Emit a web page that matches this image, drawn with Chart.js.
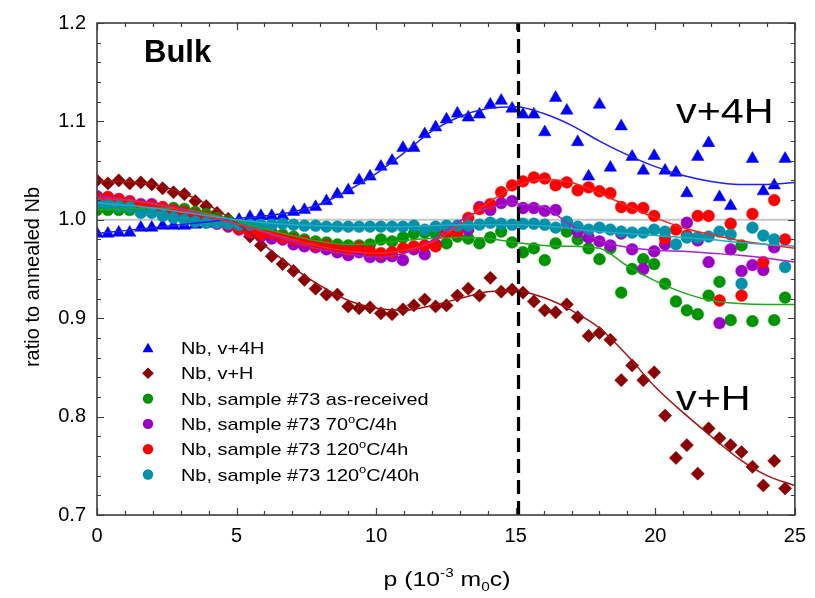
<!DOCTYPE html>
<html>
<head>
<meta charset="utf-8">
<script src="https://cdn.jsdelivr.net/npm/chart.js"></script>
<style>
  html, body { margin: 0; padding: 0; background: #fff; }
  canvas { display: block; }
</style>
</head>
<body>
<canvas id="chart" width="815" height="598"></canvas>
<script>
// momentum p (10^-3 m0c)
const pValues = [0.00, 0.39, 0.78, 1.17, 1.57, 1.96, 2.35, 2.74, 3.13, 3.52, 3.91, 4.30, 4.70, 5.09, 5.48, 5.87,
  6.26, 6.65, 7.04, 7.43, 7.83, 8.22, 8.61, 9.00, 9.39, 9.78, 10.17, 10.57, 10.96, 11.35, 11.74, 12.13,
  12.52, 12.91, 13.30, 13.70, 14.09, 14.48, 14.87, 15.26, 15.65, 16.04, 16.43, 16.83, 17.22, 17.61, 18.00, 18.39,
  18.78, 19.17, 19.57, 19.96, 20.35, 20.74, 21.13, 21.52, 21.91, 22.30, 22.70, 23.09, 23.48, 23.87, 24.26, 24.65];

const v4H = [0.986, 0.986, 0.987, 0.987, 0.992, 0.992, 0.994, 0.994, 0.994, 0.995, 0.996, 0.997, 0.998, 1.000, 1.003, 1.004,
  1.004, 1.004, 1.008, 1.010, 1.013, 1.019, 1.026, 1.030, 1.040, 1.044, 1.054, 1.060, 1.073, 1.073, 1.087, 1.094,
  1.102, 1.108, 1.104, 1.107, 1.117, 1.121, 1.113, 1.107, 1.107, 1.089, 1.124, 1.111, 1.079, 1.044, 1.117, 1.053,
  1.095, 1.064, 1.050, 1.065, 1.050, 1.048, 1.027, 1.064, 1.078, 1.023, 1.014, null, 1.062, 1.029, 1.035, 1.062];

const vH = [1.040, 1.037, 1.040, 1.037, 1.038, 1.036, 1.032, 1.028, 1.026, 1.019, 1.014, 1.007, 1.001, 0.994, 0.983, 0.974,
  0.963, 0.955, 0.948, 0.939, 0.930, 0.924, 0.924, 0.912, 0.910, 0.911, 0.905, 0.904, 0.909, 0.913, 0.919, 0.912,
  0.913, 0.923, 0.930, 0.923, 0.941, 0.927, 0.929, 0.926, 0.917, 0.908, 0.906, 0.914, 0.901, 0.882, 0.885, 0.878,
  0.837, 0.852, 0.837, 0.845, 0.801, 0.758, 0.771, 0.742, 0.788, 0.778, 0.771, 0.764, 0.749, 0.730, 0.755, 0.727];

const asReceived = [1.010, 1.010, 1.010, 1.010, 1.011, 1.012, 1.012, 1.012, 1.011, 1.008, 1.006, 1.002, 0.999, 0.996, 0.994, 0.991,
  0.987, 0.985, 0.983, 0.980, 0.978, 0.977, 0.975, 0.974, 0.974, 0.975, 0.980, 0.978, 0.982, 0.986, 0.987, 0.986,
  0.976, 0.983, 0.981, 0.976, 0.982, 0.988, 0.977, 0.967, 0.971, 0.959, 0.976, 0.988, 0.980, 0.971, 0.960, 0.971,
  0.926, 0.950, 0.960, 0.955, 0.935, 0.917, 0.908, 0.904, 0.923, 0.937, 0.898, 0.974, 0.897, null, 0.898, 0.921];

const t70c4h = [1.024, 1.023, 1.021, 1.019, 1.016, 1.016, 1.011, 1.008, 1.005, 1.002, 0.999, 0.996, 0.993, 0.990, 0.987, 0.983,
  0.981, 0.980, 0.975, 0.973, 0.972, 0.970, 0.967, 0.964, 0.967, 0.962, 0.962, 0.963, 0.959, 0.970, 0.965, 0.975,
  0.987, 0.993, 0.990, 1.013, 1.010, 1.017, 1.019, 1.012, 1.012, 1.009, 1.010, 0.997, 0.988, 0.982, 0.978, 0.974,
  0.986, 0.970, 0.950, 0.968, 0.975, null, 0.997, 0.979, 0.957, 0.895, 0.970, 0.948, 0.954, 0.949, 0.972, null];

const t120c4h = [1.022, 1.023, 1.021, 1.018, 1.014, 1.014, 1.013, 1.010, 1.008, 1.005, 1.003, 1.000, 0.995, 0.991, 0.988, 0.985,
  0.986, 0.982, 0.980, 0.978, 0.974, 0.974, 0.971, 0.969, 0.972, 0.968, 0.966, 0.967, 0.971, 0.973, 0.974, 0.973,
  0.987, 0.987, 1.002, 1.011, 1.016, 1.028, 1.035, 1.039, 1.043, 1.042, 1.035, 1.038, 1.030, 1.033, 1.029, 1.027,
  1.013, 1.012, 1.012, 1.004, 0.981, 0.990, 0.984, 1.004, 1.004, 0.918, 0.996, 0.923, 1.006, 0.957, 1.020, 0.980];

const t120c40h = [1.017, 1.016, 1.014, 1.013, 1.007, 1.007, 1.004, 1.002, 1.000, 0.998, 0.997, 0.997, 0.996, 0.995, 0.995, 0.995,
  0.995, 0.996, 0.995, 0.994, 0.994, 0.993, 0.993, 0.993, 0.993, 0.993, 0.993, 0.993, 0.993, 0.994, 0.990, 0.993,
  0.994, 0.994, 0.994, 0.995, 0.997, 0.996, 0.995, 0.996, 0.996, 0.995, 0.992, 0.998, 0.993, 0.990, 0.992, 0.990,
  0.988, 0.987, 0.987, 0.990, 0.988, 0.975, 0.982, 0.982, 0.983, 0.988, 0.985, 0.935, 0.992, 0.984, 0.980, 0.952];

// smooth fit curves, read at whole units of p
const fitP = [0, 1, 2, 3, 4, 5, 6, 7, 8, 9, 10, 11, 12, 13, 14, 15, 16, 17, 18, 19, 20, 21, 22, 23, 24, 25];
const fitV4H = [0.986, 0.989, 0.992, 0.995, 0.998, 1.001, 1.004, 1.008, 1.016, 1.030, 1.047, 1.068, 1.090,
  1.105, 1.113, 1.115, 1.108, 1.096, 1.080, 1.066, 1.054, 1.045, 1.039, 1.036, 1.036, 1.038];
const fitVH = [1.040, 1.039, 1.036, 1.028, 1.015, 0.997, 0.974, 0.952, 0.933, 0.918, 0.910, 0.908, 0.913,
  0.920, 0.927, 0.928, 0.921, 0.908, 0.890, 0.862, 0.830, 0.804, 0.780, 0.757, 0.740, 0.730];
const fitAsReceived = [1.010, 1.011, 1.012, 1.011, 1.006, 0.999, 0.991, 0.984, 0.978, 0.975, 0.976, 0.979, 0.981,
  0.982, 0.981, 0.977, 0.974, 0.973, 0.971, 0.953, 0.938, 0.926, 0.918, 0.915, 0.914, 0.914];
const fit70c4h = [1.024, 1.021, 1.017, 1.011, 1.004, 0.996, 0.987, 0.978, 0.970, 0.965, 0.962, 0.966, 0.979,
  0.999, 1.012, 1.016, 1.013, 0.994, 0.979, 0.972, 0.969, 0.968, 0.966, 0.964, 0.961, 0.957];
const fit120c4h = [1.021, 1.020, 1.016, 1.010, 1.003, 0.996, 0.988, 0.980, 0.973, 0.968, 0.966, 0.969, 0.977,
  0.995, 1.017, 1.034, 1.041, 1.038, 1.027, 1.014, 1.002, 0.992, 0.985, 0.979, 0.975, 0.971];
const fit120c40h = [1.017, 1.015, 1.012, 1.008, 1.004, 1.000, 0.997, 0.995, 0.994, 0.993, 0.993, 0.993, 0.994,
  0.995, 0.995, 0.995, 0.994, 0.991, 0.988, 0.986, 0.984, 0.982, 0.980, 0.977, 0.975, 0.973];

const refLineP = [0, 25];
const refLineY = [1.0, 1.0];
const cutP = [15.1, 15.1];
const cutY = [0.7, 1.2];

const labels = ['Nb, v+4H', 'Nb, v+H', 'Nb, sample #73 as-received',
  'Nb, sample #73 70{o}C/4h', 'Nb, sample #73 120{o}C/4h', 'Nb, sample #73 120{o}C/40h'];

const FONT = '"Liberation Sans", Arial, sans-serif';

function pts(xs, ys) {
  return xs.map((x, i) => ({ x: x, y: ys[i] }));
}

const series = [
  { data: v4H, fit: fitV4H, color: '#0000ff', line: '#1f1fff', style: 'triangle', r: 7.2 },
  { data: vH, fit: fitVH, color: '#8b0000', line: '#a01414', style: 'rectRot', r: 6.6 },
  { data: asReceived, fit: fitAsReceived, color: '#009400', line: '#22a822', style: 'circle', r: 5.9 },
  { data: t70c4h, fit: fit70c4h, color: '#9c00c4', line: '#a424c8', style: 'circle', r: 5.9 },
  { data: t120c4h, fit: fit120c4h, color: '#ff0000', line: '#ff2424', style: 'circle', r: 5.9 },
  { data: t120c40h, fit: fit120c40h, color: '#0092aa', line: '#28a8c4', style: 'circle', r: 5.9 }
];

const datasets = [];
datasets.push({
  type: 'line', label: 'ref', data: pts(refLineP, refLineY),
  borderColor: '#c4c4c4', borderWidth: 2, pointRadius: 0, order: 20
});
series.forEach((s, k) => {
  datasets.push({
    label: labels[k], data: pts(pValues, s.data),
    pointStyle: s.style, pointRadius: s.r, pointHoverRadius: s.r,
    backgroundColor: s.color, borderColor: s.color, pointBorderWidth: 0.5,
    order: 12 - k
  });
});
series.forEach((s, k) => {
  datasets.push({
    type: 'line', label: labels[k] + ' fit', data: pts(fitP, s.fit),
    borderColor: s.line, borderWidth: 1.5, pointRadius: 0,
    cubicInterpolationMode: 'monotone', order: 4 - k * 0.1
  });
});
datasets.push({
  type: 'line', label: 'cut', data: pts(cutP, cutY),
  borderColor: '#000', borderWidth: 3.2, borderDash: [14, 7], pointRadius: 0, order: -1
});

function drawRich(ctx, text, x, y, size, sx) {
  const parts = text.split(/(\{[^}]*\})/).filter(t => t.length);
  ctx.save();
  ctx.translate(x, y);
  ctx.scale(sx, 1);
  let cx = 0;
  parts.forEach(t => {
    if (t[0] === '{') {
      const s = t.slice(1, -1);
      ctx.font = Math.round(size * 0.62) + 'px ' + FONT;
      ctx.fillText(s, cx, -size * 0.42);
      cx += ctx.measureText(s).width;
    } else {
      ctx.font = size + 'px ' + FONT;
      ctx.fillText(t, cx, 0);
      cx += ctx.measureText(t).width;
    }
  });
  ctx.restore();
}

function marker(ctx, style, x, y, r) {
  ctx.beginPath();
  if (style === 'triangle') {
    ctx.moveTo(x, y - r);
    ctx.lineTo(x + 0.866 * r, y + 0.5 * r);
    ctx.lineTo(x - 0.866 * r, y + 0.5 * r);
    ctx.closePath();
  } else if (style === 'rectRot') {
    ctx.moveTo(x - r, y); ctx.lineTo(x, y - r); ctx.lineTo(x + r, y); ctx.lineTo(x, y + r);
    ctx.closePath();
  } else {
    ctx.arc(x, y, r, 0, Math.PI * 2);
  }
  ctx.fill();
}

const framePlugin = {
  id: 'frame',
  afterDraw(chart) {
    const ctx = chart.ctx;
    const a = chart.chartArea;
    const xs = chart.scales.x, ys = chart.scales.y;
    ctx.save();
    ctx.strokeStyle = '#3c3c3c';
    ctx.lineWidth = 1.6;
    ctx.strokeRect(a.left, a.top, a.right - a.left, a.bottom - a.top);
    ctx.lineWidth = 1.2;
    ctx.beginPath();
    for (let v = 0; v <= 25; v += 1) {
      const px = Math.round(xs.getPixelForValue(v)) + 0.5;
      const len = v % 5 === 0 ? 7 : 4;
      ctx.moveTo(px, a.bottom); ctx.lineTo(px, a.bottom - len);
      ctx.moveTo(px, a.top); ctx.lineTo(px, a.top + len);
    }
    for (let k = 0; k <= 25; k++) {
      const v = 0.7 + k * 0.02;
      const py = Math.round(ys.getPixelForValue(v)) + 0.5;
      const len = k % 5 === 0 ? 7 : 4;
      ctx.moveTo(a.left, py); ctx.lineTo(a.left + len, py);
      ctx.moveTo(a.right, py); ctx.lineTo(a.right - len, py);
    }
    ctx.stroke();

    ctx.fillStyle = '#000';
    ctx.textBaseline = 'alphabetic';
    ctx.textAlign = 'left';
    ctx.font = 'bold 31px ' + FONT;
    ctx.fillText('Bulk', 144, 62);
    drawRich(ctx, 'v+4H', 676, 123, 35, 1.18);
    drawRich(ctx, 'v+H', 676, 410, 35, 1.18);

    // legend
    series.forEach((s, k) => {
      const y = 348 + k * 25.3;
      ctx.fillStyle = s.color;
      marker(ctx, s.style, 148, s.style === 'triangle' ? y + 1 : y, s.r * 0.88);
      ctx.fillStyle = '#000';
      drawRich(ctx, labels[k], 181, y + 6, 17, 1.17);
    });

    // axis titles
    ctx.save();
    ctx.translate(39, 277);
    ctx.rotate(-Math.PI / 2);
    ctx.font = '20px ' + FONT;
    ctx.textAlign = 'center';
    ctx.fillText('ratio to annealed Nb', 0, 0);
    ctx.restore();

    const size = 21, sx = 1.18;
    const segs = [['p (10', 0], ['-3', 1], [' m', 0], ['0', -1], ['c)', 0]];
    let w = 0;
    segs.forEach(sg => {
      ctx.font = (sg[1] ? Math.round(size * 0.62) : size) + 'px ' + FONT;
      w += ctx.measureText(sg[0]).width;
    });
    let cx = 447 - w * sx / 2;
    const by = 586;
    segs.forEach(sg => {
      ctx.font = (sg[1] ? Math.round(size * 0.62) : size) + 'px ' + FONT;
      const dy = sg[1] === 1 ? -size * 0.45 : (sg[1] === -1 ? size * 0.22 : 0);
      ctx.save();
      ctx.translate(cx, by + dy);
      ctx.scale(sx, 1);
      ctx.fillText(sg[0], 0, 0);
      ctx.restore();
      cx += ctx.measureText(sg[0]).width * sx;
    });
    ctx.restore();
  }
};

new Chart(document.getElementById('chart').getContext('2d'), {
  type: 'scatter',
  data: { datasets: datasets },
  options: {
    responsive: false,
    animation: false,
    events: [],
    layout: { padding: { left: 0, right: 18, top: 13, bottom: 0 } },
    plugins: { legend: { display: false }, tooltip: { enabled: false } },
    scales: {
      x: {
        type: 'linear', min: 0, max: 25,
        ticks: { stepSize: 5, color: '#000', padding: 9, font: { family: FONT, size: 20 } },
        grid: { display: false, drawTicks: false },
        border: { display: false },
        afterFit(scale) { scale.height = 83; }
      },
      y: {
        min: 0.7, max: 1.2,
        ticks: { stepSize: 0.1, color: '#000', padding: 11, font: { family: FONT, size: 20 },
          callback: v => v.toFixed(1) },
        grid: { display: false, drawTicks: false },
        border: { display: false },
        afterFit(scale) { scale.width = 97; }
      }
    }
  },
  plugins: [framePlugin]
});
</script>
</body>
</html>
